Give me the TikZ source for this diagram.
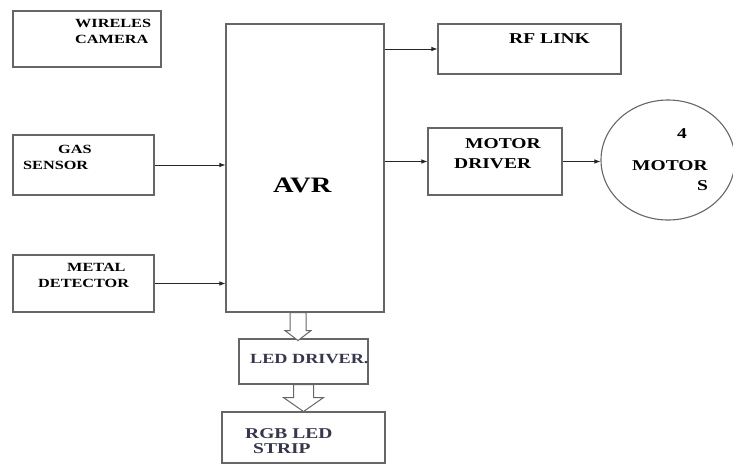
\documentclass[tikz,border=0pt]{standalone}
\usepackage{fontspec}
\newfontfamily\lblfont[FakeStretch=1.3]{Liberation Serif}
\usetikzlibrary{arrows.meta,shapes.geometric}
\definecolor{ledgray}{RGB}{55,55,75}

\begin{document}
\begin{tikzpicture}[x=1pt,y=-1pt,
    blk/.style={draw=black!60,line width=1.1pt,inner sep=0pt},
    txt/.style={inner sep=0pt,anchor=north west,align=left,font=\lblfont\bfseries\fontsize{12.5}{16}\selectfont},
    bigtxt/.style={txt,font=\lblfont\bfseries\fontsize{15}{20}\selectfont},
    con/.style={draw=black!85,line width=0.8pt,-{Latex[length=6pt,width=4.5pt]}},
    hollow/.style={draw=black!60,line width=1pt,fill=white,line join=miter}]
    \useasboundingbox (0,0) rectangle (733,464);
    \node[blk,minimum width=148pt,minimum height=56pt] (cam) at (87,39) {};
    \node[blk,minimum width=158pt,minimum height=288pt] (avr) at (305,168) {};
    \node[blk,minimum width=183pt,minimum height=50pt] (rf) at (529.5,49) {};
    \node[blk,minimum width=134pt,minimum height=67pt] (md) at (495,161.5) {};
    \node[blk,ellipse,minimum width=134pt,minimum height=120pt] (motors) at (668,160) {};
    \node[blk,minimum width=141pt,minimum height=60pt] (gas) at (83.5,165) {};
    \node[blk,minimum width=141pt,minimum height=57pt] (metal) at (83.5,283.5) {};
    \node[blk,minimum width=129pt,minimum height=45pt] (led) at (303.5,361.5) {};
    \node[blk,minimum width=163pt,minimum height=51pt] (rgb) at (303.5,437.5) {};
    \node[txt] (camtxt) at (75,19) {WIRELES\\CAMERA};
    \node[bigtxt] (rftxt) at (509,33) {RF LINK};
    \node[txt] (gastxt) at (23,145) {\hspace*{35pt}GAS\\SENSOR};
    \node[txt] (metaltxt) at (38,263) {\hspace*{29pt}METAL\\DETECTOR};
    \node[txt,font=\lblfont\bfseries\fontsize{22}{26}\selectfont] (avrtxt) at (273,178) {AVR};
    \node[bigtxt] (mdtxt) at (454,138) {\hspace*{11pt}MOTOR\\DRIVER};
    \node[bigtxt] (mtrtxt) at (632,128) {\hspace*{45pt}4\\[12pt]MOTOR\\\hspace*{65pt}S};
    \node[txt,text=ledgray,font=\lblfont\bfseries\fontsize{14}{16}\selectfont] (ledtxt) at (250,354) {LED DRIVER.};
    \node[txt,text=ledgray,font=\lblfont\bfseries\fontsize{15}{15}\selectfont] (rgbtxt) at (245,428) {RGB LED\\\hspace*{8pt}STRIP};
    \draw[con] (gas.east) -- (gas.east -| avr.west);
    \draw[con] (metal.east) -- (metal.east -| avr.west);
    \draw[con] (rf.west -| avr.east) -- (rf.west);
    \draw[con] (md.west -| avr.east) -- (md.west);
    \draw[con] (md.east) -- (md.east -| motors.west);
    \coordinate (a1) at ([xshift=-7pt]avr.south);
    \coordinate (a2) at (led.south);
    \draw[hollow,shift={(a1)}] (-8,0) -- (-8,18) -- (-13,18) -- (0,28) -- (13,18) -- (8,18) -- (8,0) -- cycle;
    \draw[hollow,shift={(a2)}] (-10,0) -- (-10,13) -- (-20,13) -- (0,27) -- (20,13) -- (10,13) -- (10,0) -- cycle;
\end{tikzpicture}
\end{document}
